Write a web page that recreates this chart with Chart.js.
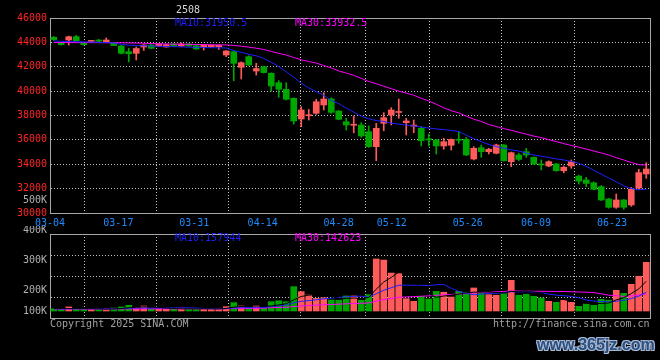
<!DOCTYPE html>
<html><head><meta charset="utf-8">
<script src="https://cdn.jsdelivr.net/npm/chart.js@4"></script>
<style>
html,body{margin:0;padding:0;background:#000;}
#wrap{position:relative;width:660px;height:360px;overflow:hidden;background:#000;}
canvas{position:absolute;left:0;}
#cA{top:0;}
#cB{top:226px;}
.t{position:absolute;font:10px 'DejaVu Sans Mono',monospace;line-height:10px;white-space:pre;}
.wm{position:absolute;font:bold 16px 'Liberation Sans',sans-serif;line-height:16px;color:#2c4f80;white-space:pre;
text-shadow:1px 1px 0 #a8bad6,-1px -1px 0 #a8bad6,1px -1px 0 #a8bad6,-1px 1px 0 #a8bad6;}
</style></head><body>
<div id="wrap">
<canvas id="cA" width="660" height="232"></canvas>
<canvas id="cB" width="660" height="134"></canvas>
<div class="t" style="left:176px;top:5px;color:#d4d4d4">2508</div>
<div class="t" style="left:175px;top:18px;color:#1f1fff">MA10:31950.5</div>
<div class="t" style="left:295px;top:18px;color:#ff00ff">MA30:33932.5</div>
<div class="t" style="left:175px;top:233px;color:#1f1fff">MA10:157944</div>
<div class="t" style="left:295px;top:233px;color:#ff00ff">MA30:142623</div>
<div class="t" style="left:50px;top:319px;color:#a0a0a0">Copyright 2025 SINA.COM</div>
<div class="t" style="left:493px;top:319px;color:#a0a0a0">http://finance.sina.com.cn</div>
<div class="wm" style="left:537px;top:337px">www.365jz.com</div>
</div>
<script>
// ---- data ----
const dates = ['03-04','03-05','03-06','03-07','03-10','03-11','03-12','03-13','03-14','03-17','03-18','03-19','03-20','03-21','03-24','03-25','03-26','03-27','03-28','03-31',
'04-01','04-02','04-03','04-07','04-08','04-09','04-10','04-11','04-14','04-15','04-16','04-17','04-18','04-21','04-22','04-23','04-24','04-25','04-28','04-29',
'04-30','05-06','05-07','05-08','05-09','05-12','05-13','05-14','05-15','05-16','05-19','05-20','05-21','05-22','05-23','05-26','05-27','05-28','05-29','05-30',
'06-03','06-04','06-05','06-06','06-09','06-10','06-11','06-12','06-13','06-16','06-17','06-18','06-19','06-20','06-23','06-24','06-25','06-26','06-27','06-30'];

const opens = [44420,43970,44195,44466,43920,44080,44195,44055,43950,43703,
43236,43100,43620,43785,43703,43621,43867,43703,43867,43730,
43650,43650,43650,42964,43236,41955,42824,41650,42000,41463,
40691,40150,39410,37713,37980,38180,38862,39354,38370,37490,
37200,37220,36670,35440,37360,38040,38250,37410,37130,36950,
36050,35990,35500,35560,36010,36050,34430,35360,35030,34900,
35580,34210,34760,35030,34570,33970,33860,34020,33470,33860,
33030,32710,32480,32160,31150,30470,31070,30660,32050,33200];
const highs = [44480,44000,44520,44580,43950,44160,44230,44360,44000,43750,
43515,43620,43820,43830,43900,43850,43900,43950,43900,43780,
43800,43800,43790,43330,43300,42400,42900,42280,42050,41500,
40860,40690,39450,38725,38500,39330,39870,39460,38400,37770,
37960,37410,37140,37360,38230,38640,39350,37770,37630,37080,
36480,36050,36130,36080,36680,36200,35440,35580,35310,35650,
35620,35000,34900,35310,34600,34350,34280,34080,33860,34350,
33110,32930,32550,32250,31200,31560,31100,32100,33580,34130];
const lows = [44150,43780,43785,44100,43780,44040,44060,44030,43730,43050,
42390,42560,43340,43480,43680,43600,43680,43680,43680,43430,
43374,43600,43420,42830,40855,40995,42100,41320,41480,40000,
39500,39270,37300,37084,37630,38100,38452,38180,37650,36811,
36580,36210,35380,34290,36750,37220,37770,36400,36590,35500,
35500,34840,35230,35170,35720,34700,34350,34570,34840,34850,
34250,33800,34300,34570,33990,33530,33800,33430,33300,33670,
32380,32160,31900,31030,30400,30380,30300,30550,31950,32850];
const closes = [44230,43810,44466,44138,43810,44110,44090,44195,43740,43104,
43071,43500,43785,43515,43867,43812,43703,43867,43703,43457,
43785,43760,43760,43292,42283,42333,42144,41850,41520,40421,
40150,39330,37550,38452,38000,39130,39354,38260,37690,37220,
37230,36320,35440,36950,37820,38450,38260,37550,37140,35930,
36000,35500,35850,36040,35970,34760,35310,35030,35230,35580,
34290,34950,34400,34760,34020,33940,34210,33470,33750,34210,
32620,32430,31940,31070,30470,31070,30470,31950,33310,33610];

const ma10 = [44113,44090,44070,44055,44040,44020,44005,43980,43955,43835,
43770,43745,43725,43700,43685,43660,43645,43630,43610,43595,
43580,43560,43555,43540,43325,43185,43020,42900,42685,42360,
42030,41580,41150,40650,40270,39960,39660,39230,38975,38600,
38280,37935,37730,37590,37510,37370,37295,37215,37140,37050,
36975,36900,36845,36770,36690,36380,36100,35860,35620,35455,
35315,35180,35085,34920,34765,34660,34555,34445,34350,34235,
34075,33830,33495,33190,32870,32560,32230,32010,31900,31950.5];
const ma30 = [43990,43988,43985,43982,43980,43977,43975,43972,43968,43962,
43955,43945,43930,43900,43885,43870,43860,43850,43840,43830,
43820,43810,43800,43785,43750,43685,43610,43520,43415,43260,
43095,42965,42760,42570,42430,42300,42100,41905,41660,41480,
41300,41050,40790,40610,40405,40200,39995,39840,39660,39410,
39200,38920,38630,38395,38215,37950,37700,37515,37255,37100,
36925,36785,36620,36475,36310,36185,36020,35860,35700,35540,
35410,35250,35090,34925,34760,34540,34350,34145,33970,33932.5];

// volume in thousands of lots
const volumes = [19,13,34,17,17,13,13,17,25,34, 48,31,42,17,17,17,17,23,17,17,
17,17,23,36,70,42,23,44,23,78, 86,78,204,162,134,106,111,92,90,126,
126,90,137,436,427,318,313,103,81,123, 101,165,157,117,165,157,193,157,137,132,
145,257,132,140,123,109,81,73,90,73, 39,59,48,98,90,173,148,224,291,408];
const volMa5 = [20,20,20,20,20,18.8,18.8,15.4,17,20.4, 27.4,31,36,34.4,31,24.8,22,18.2,18.2,18.2,
18.2,18.2,18.2,22,32.6,37.6,38.8,43,40.4,42, 50.8,61.8,93.8,121.6,132.8,136.8,143.4,121,106.6,105,
109,104.8,113.8,183,243.2,281.6,326.2,319.4,248.4,187.6, 144.2,114.6,125.4,132.6,141,152.2,157.8,157.8,161.8,155.2,
152.8,165.6,160.6,161.2,159.4,152.2,117,105.2,95.2,85.2, 71.2,66.8,61.8,63.4,66.8,93.6,111.4,146.6,185.2,248.8];
const volMa10 = [18,18,19,19,19,19,18,18,19,20.2, 23.1,24.9,25.7,25.7,25.7,26.1,26.5,27.1,26.3,24.6,
21.5,20.1,18.2,20.1,25.4,27.9,28.5,30.6,31.2,37.3, 44.2,50.3,68.4,81,87.4,93.8,102.6,107.4,114.1,118.9,
122.9,124.1,117.4,144.8,174.1,195.3,215.5,216.6,215.7,215.4, 212.9,220.4,222.4,190.5,164.3,148.2,136.2,141.6,147.2,148.1,
152.5,161.7,159.2,161.5,157.3,152.5,141.3,132.9,128.2,122.3, 111.7,91.9,83.5,79.3,76,82.4,89.1,104.2,124.3,157.944];
const volMa30 = [16,16,16.5,16.5,16.5,16.5,16.5,17,17,17, 17.5,17.5,18,18,18,18,18,18.5,18.5,18.5,
18.5,19,19,19.5,20.5,21.5,22,23,23.5,27.4, 29.6,31.8,37.4,42.3,46.2,49.3,52.5,55,57.2,60.3,
62.9,64.8,68,82,95.6,105.7,115.5,118.2,120.3,123.9, 126.7,131.6,136.1,138.8,141.9,145.8,151.4,155.2,159,160.8,
162.8,168.7,166.3,165.6,165.2,165.3,164.3,163.7,163.7,161.9, 159,158,155,143.8,132.5,127.7,122.2,126.2,133.2,142.623];

const priceTicks = [30000,32000,34000,36000,38000,40000,42000,44000,46000];
const dateTicks = ['03-04','03-17','03-31','04-14','04-28','05-12','05-26','06-09','06-23'];
const volTickLabels = ['100K','200K','300K','400K','500K'];
const volTickValues = [130,200,300,400,500];

// ---- style ----
const GRID = '#c2c2c2', FRAME = '#a8a8a8', CLEAR = 'rgba(0,0,0,0)';
const MONO = "'DejaVu Sans Mono', monospace";
const UP = '#ff5b5b', DN = '#00a600';
const colors = closes.map((c, i) => c >= opens[i] ? UP : DN);

function frame(pos, size) {
  return {type: 'linear', position: pos, display: true,
    ticks: {display: false}, grid: {display: false, drawTicks: false},
    border: {display: true, color: FRAME, width: 1},
    afterFit(s) { if (pos === 'top' || pos === 'bottom') s.height = size; else s.width = size; }};
}
function dateAxis(showLabels, h) {
  return {type: 'linear', position: 'bottom', min: 0, max: dates.length - 1, offset: false,
    afterBuildTicks(s) { s.ticks = dateTicks.map(l => ({value: dates.indexOf(l)})); },
    ticks: {display: showLabels, autoSkip: false, maxRotation: 0, minRotation: 0, padding: 4,
      color: '#1c8cff', font: {family: MONO, size: 10}, callback: (v, i) => dateTicks[i]},
    grid: {color: c => (c.index === 0 ? CLEAR : GRID), drawTicks: false, lineWidth: 1},
    border: {display: true, color: FRAME, width: 1, dash: [1, 2]},
    afterFit(s) { s.height = h; }};
}
const common = {
  responsive: false, animation: false, events: [], devicePixelRatio: 1,
  plugins: {legend: {display: false}, tooltip: {enabled: false}}
};
function line(data, color, axis) {
  return {type: 'line', data, borderColor: color, borderWidth: 1, pointRadius: 0, tension: 0,
    xAxisID: 'x', yAxisID: axis, order: 0};
}

// ---- price chart ----
new Chart(document.getElementById('cA'), {
  type: 'bar',
  data: {labels: dates, datasets: [
    line(ma10, '#1f1fff', 'y'),
    line(ma30, '#ff00ff', 'y'),
    {type: 'bar', data: lows.map((l, i) => [l, highs[i]]), backgroundColor: colors, barThickness: 1,
      grouped: false, xAxisID: 'x', yAxisID: 'y', order: 2},
    {type: 'bar', data: opens.map((o, i) => [o, closes[i]]), backgroundColor: colors, barThickness: 6,
      minBarLength: 1, grouped: false, xAxisID: 'x', yAxisID: 'y', order: 1}
  ]},
  options: Object.assign({}, common, {
    layout: {padding: {top: 18, right: 10, bottom: 0, left: 0}},
    scales: {
      x: {type: 'category', display: false, offset: true},
      xd: dateAxis(true, 19),
      xt: frame('top', 0),
      yr: frame('right', 0),
      y: {type: 'linear', position: 'left', weight: 1, min: priceTicks[0], max: priceTicks[priceTicks.length - 1],
        afterBuildTicks(s) { s.ticks = priceTicks.map(v => ({value: v})); },
        ticks: {color: '#ff2424', font: {family: MONO, size: 10}, padding: 3, callback: v => String(v)},
        grid: {color: c => (c.index === 0 || c.index === priceTicks.length - 1) ? CLEAR : GRID, drawTicks: false},
        border: {display: true, color: FRAME, width: 1, dash: [1, 2]},
        afterFit(s) { s.width = 50; }},
      yl: {type: 'linear', position: 'left', weight: 0, min: 456.667, max: 1106.667,
        afterBuildTicks(s) { s.ticks = [{value: volTickValues[4]}]; },
        ticks: {mirror: true, padding: -27, color: '#b0b0b0', font: {family: MONO, size: 10}, callback: () => volTickLabels[4]},
        grid: {display: false, drawTicks: false}, border: {display: false},
        afterFit(s) { s.width = 0; }}
    }
  })
});

// ---- volume chart ----
new Chart(document.getElementById('cB'), {
  type: 'bar',
  data: {labels: dates, datasets: [
    line(volMa5, '#000000', 'yv'),
    line(volMa10, '#1f1fff', 'yv'),
    line(volMa30, '#ff00ff', 'yv'),
    {type: 'bar', data: volumes, backgroundColor: colors, barThickness: 6, grouped: false,
      xAxisID: 'x', yAxisID: 'yv', order: 1}
  ]},
  options: Object.assign({}, common, {
    layout: {padding: {top: 8, right: 10, bottom: 0, left: 0}},
    scales: {
      x: {type: 'category', display: false, offset: true},
      xd: dateAxis(false, 42),
      xt: frame('top', 0),
      yr: frame('right', 0),
      yv: {type: 'linear', position: 'left', weight: 1, min: -58.66, max: 645.26,
        afterBuildTicks(s) { s.ticks = [0, 1, 2, 3, 4].map(k => ({value: s.min + k * (s.max - s.min) / 4})); },
        ticks: {display: false},
        grid: {color: c => (c.index === 0 || c.index === 4) ? CLEAR : GRID, drawTicks: false},
        border: {display: true, color: FRAME, width: 1, dash: [1, 2]},
        afterFit(s) { s.width = 50; }},
      yl: {type: 'linear', position: 'left', weight: 0, min: 106.667, max: 386.667,
        afterBuildTicks(s) { s.ticks = volTickValues.slice(0, 4).map(v => ({value: v})); },
        ticks: {mirror: true, padding: -27, color: '#b0b0b0', font: {family: MONO, size: 10},
          callback: (v, i) => volTickLabels[i]},
        grid: {display: false, drawTicks: false}, border: {display: false},
        afterFit(s) { s.width = 0; }}
    }
  })
});
</script>
</body></html>
